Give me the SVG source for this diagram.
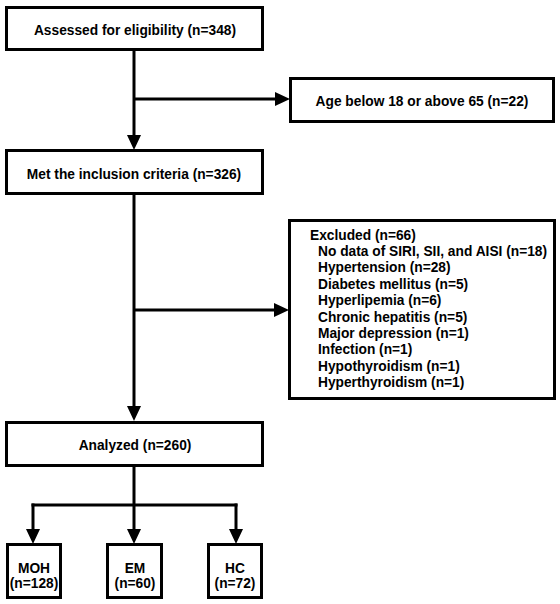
<svg xmlns="http://www.w3.org/2000/svg" width="560" height="604" viewBox="0 0 560 604">
<defs>
<style>
.box{fill:#fff;stroke:#000;stroke-width:3}
.t{font-family:"Liberation Sans",Arial,Helvetica,sans-serif;font-weight:bold;font-size:13.75px;fill:#000}
.c{text-anchor:middle}
.ln{fill:none;stroke:#000;stroke-width:3}
</style>
<marker id="ah" markerUnits="userSpaceOnUse" markerWidth="15" markerHeight="14" refX="0" refY="7" orient="auto" overflow="visible">
<path d="M0,0 L15,7 L0,14 z" fill="#000"/>
</marker>
</defs>
<rect width="560" height="604" fill="#fff"/>
<g id="connectors">
<path class="ln" d="M134,51 V135" marker-end="url(#ah)"/>
<path class="ln" d="M134,99 H275" marker-end="url(#ah)"/>
<path class="ln" d="M134,195 V406" marker-end="url(#ah)"/>
<path class="ln" d="M134,310 H274" marker-end="url(#ah)"/>
<path class="ln" d="M134,467 V505 M31.5,505 H237.5"/>
<path class="ln" d="M33,503.5 V529" marker-end="url(#ah)"/>
<path class="ln" d="M134,505 V529" marker-end="url(#ah)"/>
<path class="ln" d="M236,503.5 V529" marker-end="url(#ah)"/>
</g>
<g id="assessed">
<rect class="box" x="6.5" y="7.5" width="256" height="42"/>
<text class="t c" x="135" y="34.5">Assessed for eligibility (n=348)</text>
</g>
<g id="age">
<rect class="box" x="290.5" y="78.5" width="263" height="43"/>
<text class="t c" x="422" y="105.5">Age below 18 or above 65 (n=22)</text>
</g>
<g id="met">
<rect class="box" x="6.5" y="150.5" width="256" height="43"/>
<text class="t c" x="134" y="179">Met the inclusion criteria (n=326)</text>
</g>
<g id="excluded">
<rect class="box" x="289.5" y="220.5" width="265" height="178"/>
<text class="t" x="310" y="239.5">Excluded (n=66)</text>
<text class="t" x="318" y="256">No data of SIRI, SII, and AISI (n=18)</text>
<text class="t" x="318" y="272.4">Hypertension (n=28)</text>
<text class="t" x="318" y="288.8">Diabetes mellitus (n=5)</text>
<text class="t" x="318" y="305.2">Hyperlipemia (n=6)</text>
<text class="t" x="318" y="321.6">Chronic hepatitis (n=5)</text>
<text class="t" x="318" y="338">Major depression (n=1)</text>
<text class="t" x="318" y="354.4">Infection (n=1)</text>
<text class="t" x="318" y="370.8">Hypothyroidism (n=1)</text>
<text class="t" x="318" y="387.2">Hyperthyroidism (n=1)</text>
</g>
<g id="analyzed">
<rect class="box" x="6.5" y="422.5" width="256" height="43"/>
<text class="t c" x="135" y="450">Analyzed (n=260)</text>
</g>
<g id="moh">
<rect class="box" x="7.5" y="544.5" width="53" height="53"/>
<text class="t c" x="34" y="573">MOH</text>
<text class="t c" x="34" y="588">(n=128)</text>
</g>
<g id="em">
<rect class="box" x="107.5" y="544.5" width="54" height="53"/>
<text class="t c" x="135" y="573">EM</text>
<text class="t c" x="135" y="588">(n=60)</text>
</g>
<g id="hc">
<rect class="box" x="208.5" y="544.5" width="53" height="53"/>
<text class="t c" x="235" y="573">HC</text>
<text class="t c" x="235" y="588">(n=72)</text>
</g>
</svg>
